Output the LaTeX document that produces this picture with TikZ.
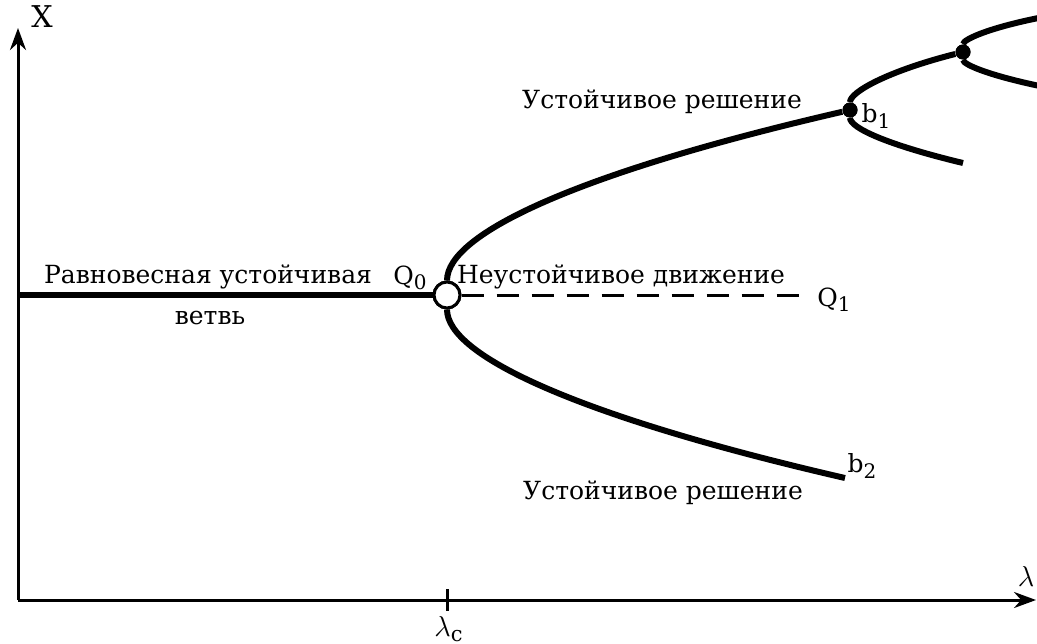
\documentclass[tikz,border=0pt]{standalone}
\usepackage{fontspec}
\setmainfont{DejaVu Serif}
\usetikzlibrary{arrows.meta,positioning}
\newcommand{\lowidx}[1]{\raisebox{-0.4ex}{\fontsize{10}{12}\selectfont #1}}
\tikzset{
  branch/.style={line width=3pt},
  unstable/.style={line width=1.5pt,dash pattern=on 11pt off 6.5pt},
  axisline/.style={line width=1.5pt,-{Stealth[length=11pt,width=8pt]}},
  bifdot/.style={circle,fill=black,inner sep=0pt,minimum size=7.5pt},
  critpt/.style={circle,draw=black,fill=white,line width=1.5pt,inner sep=0pt,minimum size=13pt},
  lbl/.style={font=\fontsize{12.5}{15}\selectfont,inner sep=1pt},
  biglbl/.style={font=\fontsize{15}{18}\selectfont,inner sep=1pt},
}

\begin{document}
\begin{tikzpicture}[x=0.5pt,y=-0.5pt]
  \useasboundingbox (0,0) rectangle (1037,643);
  \clip (0,0) rectangle (1037,643);
  % axes
  \coordinate (o) at (18,600);
  \coordinate (ytop) at (18,28);
  \coordinate (xend) at (1036,600);
  \draw[axisline] (o) -- (ytop);
  \draw[axisline] (o) -- (xend);
  \coordinate (tickup) at (447,589);
  \coordinate (tickdn) at (447,611);
  \draw[line width=1.5pt] (tickup) -- (tickdn);
  \node[biglbl] (xlab) at (42,17) {X};
  \node[biglbl] (lamlab) at (1026,576) {$\lambda$};
  \node[biglbl] (lamc) at (449,629) {$\lambda_{\mathrm{c}}$};

  % points
  \coordinate (start) at (18,295);
  \node[critpt] (q0) at (447,295) {};
  \coordinate (q1pt) at (800,295);
  \node[bifdot] (b1) at (850,110) {};
  \node[bifdot] (b3) at (963,52) {};
  \coordinate (b2end) at (845,478);
  \coordinate (s1end) at (963,163);
  \coordinate (s2up) at (1060,14);
  \coordinate (s2low) at (1060,90);

  % branches
  \draw[branch] (start) -- (q0);
  \draw[unstable] (q0) -- (q1pt);
  \draw[branch] (q0) .. controls (447,233) and (581,172) .. (b1);
  \draw[branch] (q0) .. controls (447,356) and (580,417) .. (b2end);
  \draw[branch] (b1) .. controls (850,92) and (888,71) .. (b3);
  \draw[branch] (b1) .. controls (850,128) and (888,145) .. (s1end);
  \draw[branch] (b3) .. controls (963,39) and (995,25) .. (s2up);
  \draw[branch] (b3) .. controls (963,65) and (995,78) .. (s2low);
  \node[critpt] at (q0) {};
  \node[bifdot] at (b1) {};
  \node[bifdot] at (b3) {};

  % labels
  \node[lbl] (stab1) at (662,102) {Устойчивое решение};
  \node[lbl] (stab2) at (663,493) {Устойчивое решение};
  \node[lbl] (eq1) at (208,277) {Равновесная устойчивая};
  \node[lbl] (eq2) at (210,318) {ветвь};
  \node[lbl] (q0lab) at (410,278) {Q\lowidx{0}};
  \node[lbl] (unst) at (621,277) {Неустойчивое движение};
  \node[lbl] (q1lab) at (834,300) {Q\lowidx{1}};
  \node[lbl] (b1lab) at (876,116) {b\lowidx{1}};
  \node[lbl] (b2lab) at (862,466) {b\lowidx{2}};
\end{tikzpicture}
\end{document}
